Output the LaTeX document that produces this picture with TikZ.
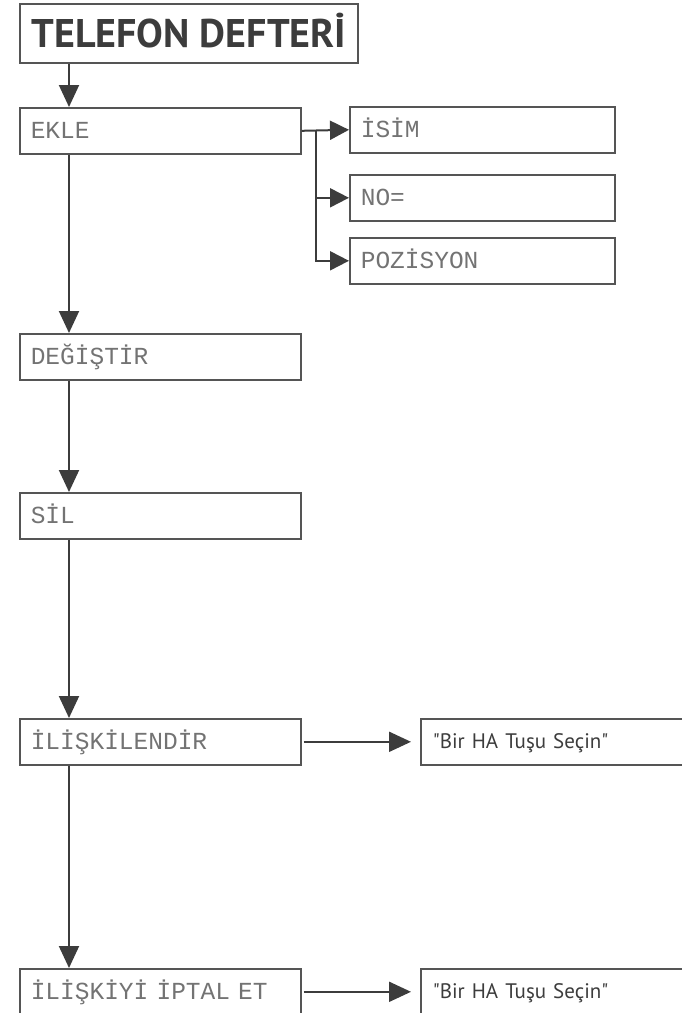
\documentclass[tikz,border=0pt]{standalone}
\usepackage{fontspec}
\usepackage{tikz}
\usetikzlibrary{arrows.meta}
\newfontfamily\lcdfont{Liberation Mono}
\newfontfamily\dinfont{PT Sans}
\definecolor{linegray}{RGB}{60,60,60}
\definecolor{boxgray}{RGB}{85,85,85}
\definecolor{lcdgray}{RGB}{115,115,115}

\tikzset{
  lcdbox/.style={draw=boxgray, line width=1.6pt, anchor=north west, minimum height=46pt,
    text width=259pt, inner xsep=11pt, inner ysep=0pt, align=left, text=lcdgray,
    text height=14.4pt, text depth=0pt, font=\lcdfont\fontsize{24.5}{24.5}\selectfont},
  subbox/.style={lcdbox, text width=243pt},
  msgbox/.style={draw=boxgray, line width=1.6pt, anchor=north west, minimum height=46pt,
    text width=268pt, inner xsep=12pt, inner ysep=0pt, align=left, text=linegray,
    text height=14pt, text depth=0pt, font=\dinfont\fontsize{21}{21}\selectfont},
  flow/.style={draw=linegray, line width=2pt, -{Triangle[length=22pt,width=20pt]}},
  branch/.style={draw=linegray, line width=2pt, -{Triangle[length=19pt,width=19pt]}}
}

\begin{document}
\begin{tikzpicture}[x=1pt,y=1pt]
  \useasboundingbox (0,0) rectangle (681,-1013);

  \node[draw=boxgray, line width=1.6pt, anchor=north west, minimum width=338pt, minimum height=59pt,
        inner sep=0pt, text=linegray, text height=28pt, text depth=0pt,
        font=\dinfont\bfseries\fontsize{40}{40}\selectfont] (title) at (19,-3) {TELEFON DEFTERİ};

  \node[lcdbox] (ekle) at (19,-107) {EKLE};
  \node[subbox] (isim) at (349,-106) {İSİM};
  \node[subbox] (no) at (349,-174) {NO=};
  \node[subbox] (poz) at (349,-237) {POZİSYON};
  \node[lcdbox] (degistir) at (19,-333) {DEĞİŞTİR};
  \node[lcdbox] (sil) at (19,-492) {SİL};
  \node[lcdbox] (iliski) at (19,-718) {İLİŞKİLENDİR};
  \node[lcdbox] (iptal) at (19,-968) {İLİŞKİYİ İPTAL ET};
  \node[msgbox] (secin1) at (420,-718) {"Bir HA Tuşu Seçin"};
  \node[msgbox] (secin2) at (420,-968) {"Bir HA Tuşu Seçin"};

  \draw[flow] ([xshift=50pt]title.south west) -- ([xshift=50pt]ekle.north west);
  \draw[flow] ([xshift=50pt]ekle.south west) -- ([xshift=50pt]degistir.north west);
  \draw[flow] ([xshift=50pt]degistir.south west) -- ([xshift=50pt]sil.north west);
  \draw[flow] ([xshift=50pt]sil.south west) -- ([xshift=50pt]iliski.north west);
  \draw[flow] ([xshift=50pt]iliski.south west) -- ([xshift=50pt]iptal.north west);

  \coordinate (br) at ([xshift=14pt]ekle.east);
  \draw[branch] (ekle.east) -- (isim.west);
  \draw[branch] (br) |- (no.west);
  \draw[branch] (br) |- (poz.west);

  \draw[flow, shorten <=2pt, shorten >=9pt] (iliski.east) -- (secin1.west);
  \draw[flow, shorten <=2pt, shorten >=9pt] (iptal.east) -- (secin2.west);
\end{tikzpicture}
\end{document}
